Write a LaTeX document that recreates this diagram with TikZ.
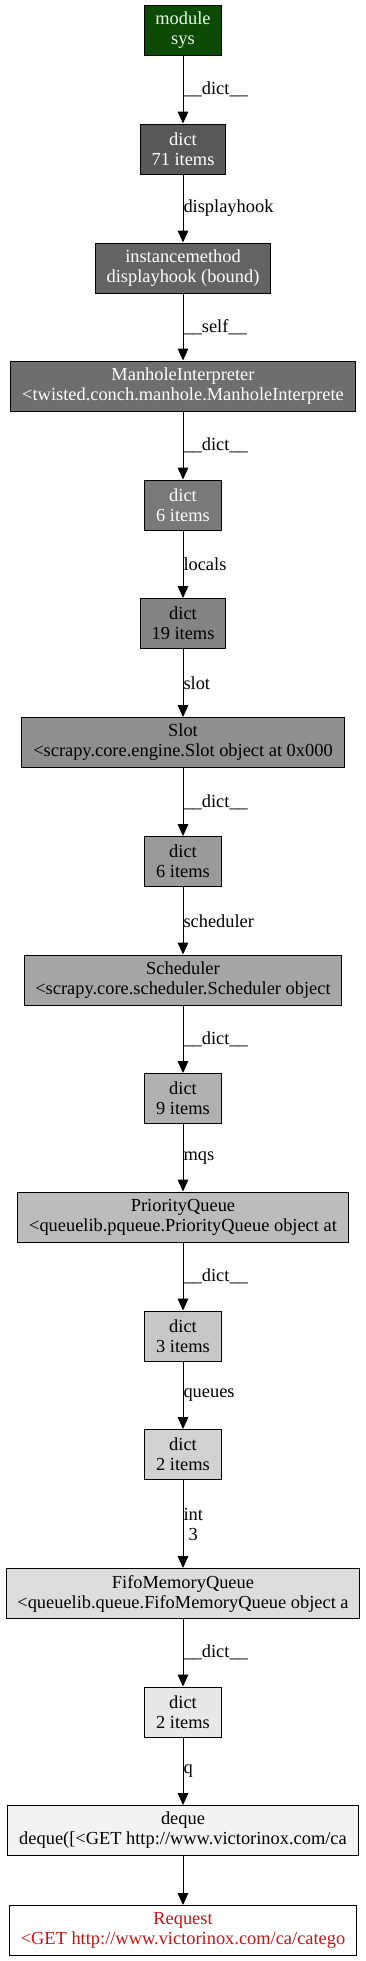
\documentclass[tikz,border=0pt]{standalone}
\usepackage{fontspec}
\setmainfont{Liberation Serif}
\usetikzlibrary{arrows.meta,positioning}
\definecolor{ModGreen}{HTML}{0D4A05}
\definecolor{ModText}{HTML}{EAFFEA}
\definecolor{ReqRed}{HTML}{CC1111}
\definecolor{GrA}{HTML}{585858}
\definecolor{GrB}{HTML}{636363}
\definecolor{GrC}{HTML}{6E6E6E}
\definecolor{GrD}{HTML}{797979}
\definecolor{GrE}{HTML}{848484}
\definecolor{GrF}{HTML}{8F8F8F}
\definecolor{GrG}{HTML}{9A9A9A}
\definecolor{GrH}{HTML}{A6A6A6}
\definecolor{GrI}{HTML}{B1B1B1}
\definecolor{GrJ}{HTML}{BCBCBC}
\definecolor{GrK}{HTML}{C7C7C7}
\definecolor{GrL}{HTML}{D2D2D2}
\definecolor{GrM}{HTML}{DDDDDD}
\definecolor{GrN}{HTML}{E8E8E8}
\definecolor{GrO}{HTML}{F3F3F3}
\tikzset{
  obj/.style={draw=black, line width=0.75pt, minimum width=56.25pt, minimum height=37.5pt, inner xsep=8.5pt, inner ysep=0pt, align=center, font=\fontsize{13.8pt}{15pt}\selectfont},
  darkobj/.style={obj, text=white},
  ref/.style={-{Triangle[length=9pt,width=8pt]}, line width=0.75pt, draw=black},
  lbl/.style={right, inner sep=0pt, align=center, font=\fontsize{13.8pt}{15pt}\selectfont}
}
\begin{document}
\begin{tikzpicture}[x=0.75pt,y=-0.75pt]
\useasboundingbox[fill=white] (0,0) rectangle (365,1961);
\node[obj,fill=ModGreen,text=ModText] (mod) at (183,30.5) {module\\sys};
\node[darkobj,fill=GrA] (d71) at (183,149) {dict\\71 items};
\node[darkobj,fill=GrB] (meth) at (183,268) {instancemethod\\displayhook (bound)};
\node[darkobj,fill=GrC] (manhole) at (183,386) {ManholeInterpreter\\<twisted.conch.manhole.ManholeInterprete};
\node[darkobj,fill=GrD] (d6a) at (183,505) {dict\\6 items};
\node[obj,fill=GrE] (d19) at (183,623.5) {dict\\19 items};
\node[obj,fill=GrF] (slot) at (183,742.5) {Slot\\<scrapy.core.engine.Slot object at 0x000};
\node[obj,fill=GrG] (d6b) at (183,861.5) {dict\\6 items};
\node[obj,fill=GrH] (sched) at (183,980) {Scheduler\\<scrapy.core.scheduler.Scheduler object};
\node[obj,fill=GrI] (d9) at (183,1098.5) {dict\\9 items};
\node[obj,fill=GrJ] (pq) at (183,1217) {PriorityQueue\\<queuelib.pqueue.PriorityQueue object at};
\node[obj,fill=GrK] (d3) at (183,1336) {dict\\3 items};
\node[obj,fill=GrL] (d2a) at (183,1454.5) {dict\\2 items};
\node[obj,fill=GrM] (fifo) at (183,1593.5) {FifoMemoryQueue\\<queuelib.queue.FifoMemoryQueue object a};
\node[obj,fill=GrN] (d2b) at (183,1712) {dict\\2 items};
\node[obj,fill=GrO] (dq) at (183,1830.5) {deque\\deque([<GET http://www.victorinox.com/ca};
\node[obj,fill=white,text=ReqRed] (req) at (183,1930.5) {Request\\<GET http://www.victorinox.com/ca/catego};
% references
\draw[ref] (mod) -- node[lbl] {\_\_dict\_\_} (d71);
\draw[ref] (d71) -- node[lbl] {displayhook} (meth);
\draw[ref] (meth) -- node[lbl] {\_\_self\_\_} (manhole);
\draw[ref] (manhole) -- node[lbl] {\_\_dict\_\_} (d6a);
\draw[ref] (d6a) -- node[lbl] {locals} (d19);
\draw[ref] (d19) -- node[lbl] {slot} (slot);
\draw[ref] (slot) -- node[lbl] {\_\_dict\_\_} (d6b);
\draw[ref] (d6b) -- node[lbl] {scheduler} (sched);
\draw[ref] (sched) -- node[lbl] {\_\_dict\_\_} (d9);
\draw[ref] (d9) -- node[lbl] {mqs} (pq);
\draw[ref] (pq) -- node[lbl] {\_\_dict\_\_} (d3);
\draw[ref] (d3) -- node[lbl] {queues} (d2a);
\draw[ref] (d2a) -- node[lbl] {int\\3} (fifo);
\draw[ref] (fifo) -- node[lbl] {\_\_dict\_\_} (d2b);
\draw[ref] (d2b) -- node[lbl] {q} (dq);
\draw[ref] (dq) -- (req);
\end{tikzpicture}
\end{document}
